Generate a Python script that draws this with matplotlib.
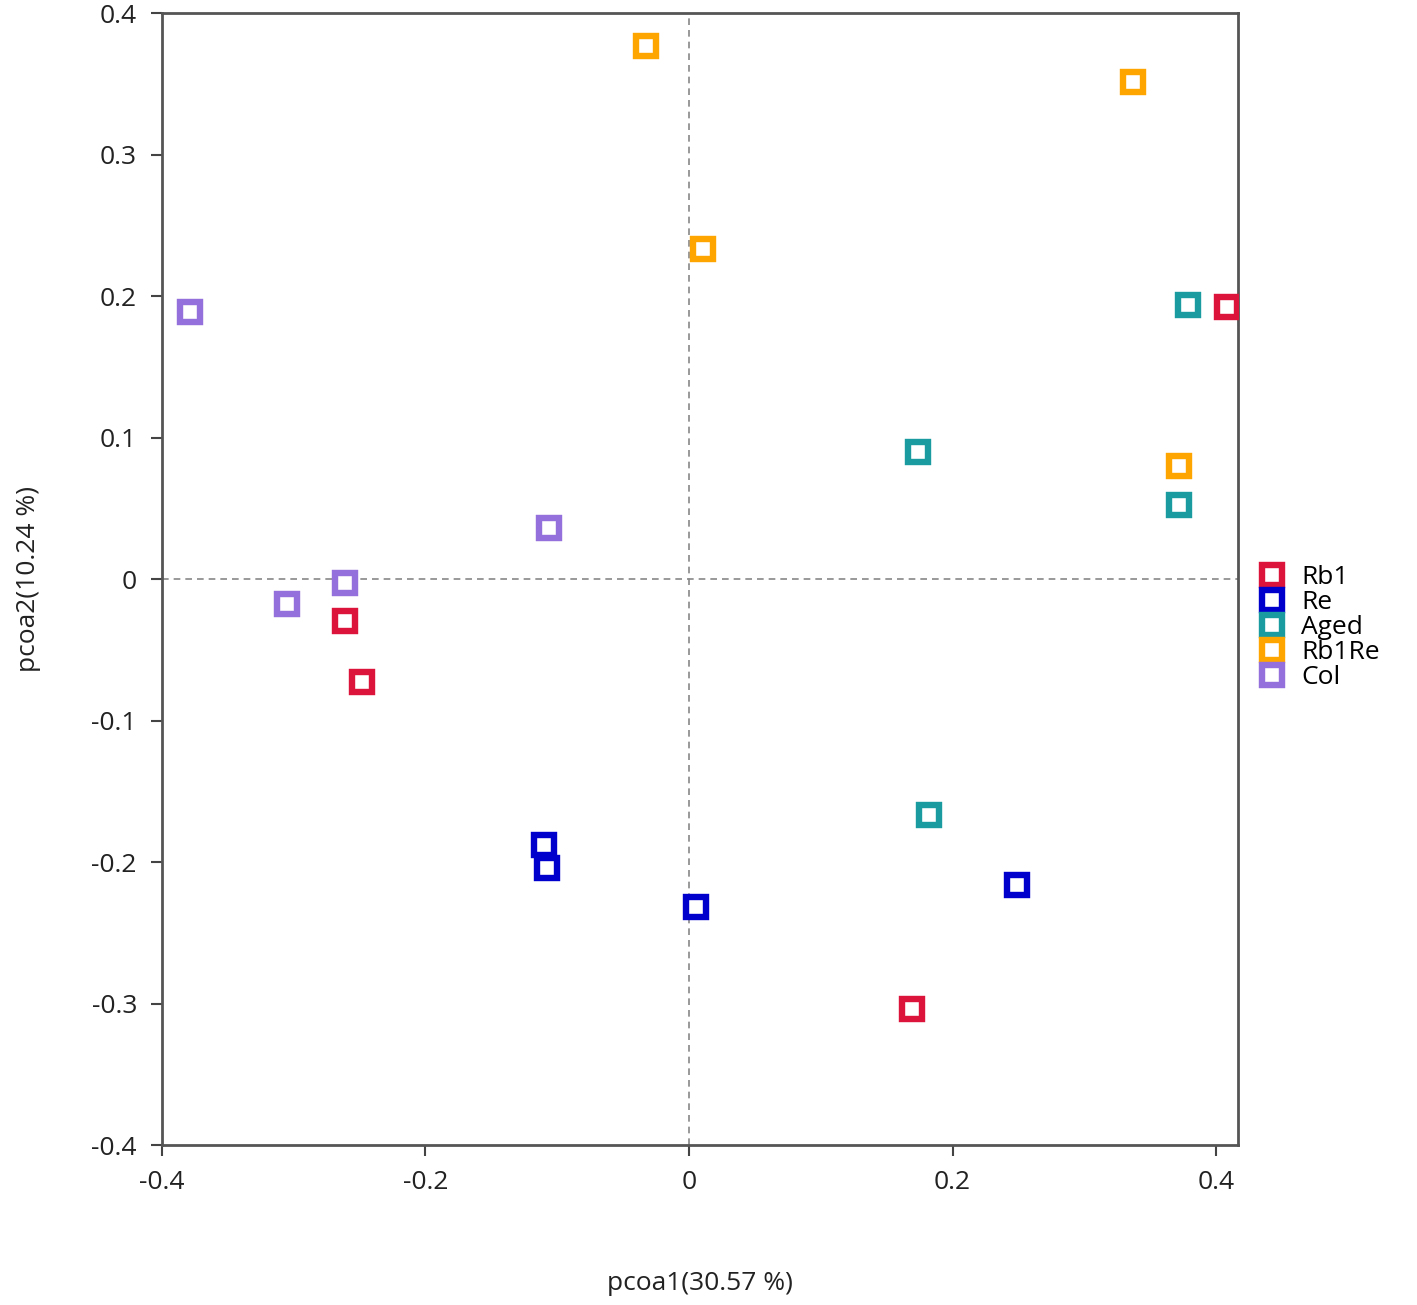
import matplotlib.pyplot as plt

plt.rcParams['font.family'] = ['Open Sans', 'DejaVu Sans']

groups = ['Rb1', 'Re', 'Aged', 'Rb1Re', 'Col']
colors = ['#DC143C', '#0000CD', '#1A9BA0', '#FFA500', '#9370DB']

rb1_x = [0.408, -0.261, -0.248, 0.169]
rb1_y = [0.192, -0.030, -0.073, -0.304]
re_x = [-0.110, -0.108, 0.005, 0.249]
re_y = [-0.188, -0.204, -0.232, -0.216]
aged_x = [0.379, 0.174, 0.372, 0.182]
aged_y = [0.194, 0.090, 0.052, -0.167]
rb1re_x = [-0.033, 0.337, 0.011, 0.372]
rb1re_y = [0.377, 0.351, 0.233, 0.080]
col_x = [-0.379, -0.106, -0.261, -0.305]
col_y = [0.189, 0.036, -0.003, -0.018]

xs = [rb1_x, re_x, aged_x, rb1re_x, col_x]
ys = [rb1_y, re_y, aged_y, rb1re_y, col_y]

fig = plt.figure(figsize=(14.17, 13.05), dpi=100)
ax = fig.add_axes([0.1143, 0.1226, 0.7594, 0.8674])

ax.axhline(0, color='#888888', lw=1.2, ls=(0, (4, 3)), zorder=1)
ax.axvline(0, color='#888888', lw=1.2, ls=(0, (4, 3)), zorder=1)

for name, c, x, y in zip(groups, colors, xs, ys):
    ax.plot(x, y, ls='none', marker='s', ms=14.0, mew=4.6,
            mec=c, mfc='white', label=name, zorder=3)

ax.set_xlim(-0.4, 0.4167)
ax.set_ylim(-0.4, 0.4)
ax.set_xticks([-0.4, -0.2, 0, 0.2, 0.4])
ax.set_xticklabels(['-0.4', '-0.2', '0', '0.2', '0.4'])
ax.set_yticks([-0.4, -0.3, -0.2, -0.1, 0, 0.1, 0.2, 0.3, 0.4])
ax.set_yticklabels(['-0.4', '-0.3', '-0.2', '-0.1', '0', '0.1', '0.2', '0.3', '0.4'])
ax.tick_params(labelsize=19, length=8, width=1.5, color='#444444',
               labelcolor='#222222', pad=10)

for s in ax.spines.values():
    s.set_color('#555555')
    s.set_linewidth(2)

ax.set_xlabel('pcoa1(30.57 %)', fontsize=19, color='#222222', labelpad=55)
ax.set_ylabel('pcoa2(10.24 %)', fontsize=19, color='#222222', labelpad=36)

ax.legend(loc='center left', bbox_to_anchor=(1.0, 0.457), frameon=False,
          fontsize=19, labelspacing=0.0, handlelength=1.0, handletextpad=0.6,
          borderaxespad=0.4, markerscale=1.0)

fig.savefig('out.png', dpi=100)
